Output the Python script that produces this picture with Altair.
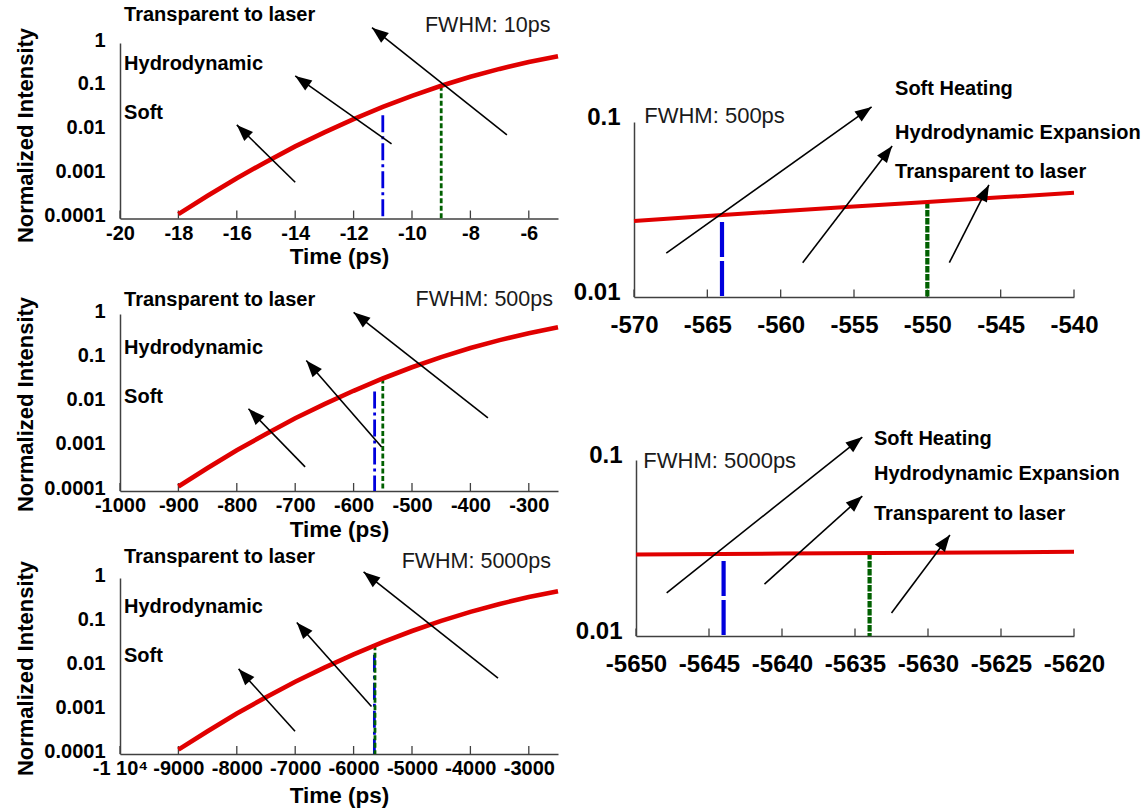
import math

import altair as alt
import pandas as pd

W, H = 1146, 809
FONT = "Liberation Sans"
RED = "#e00000"
BLUE = "#0000dd"
GREEN = "#006000"
AXIS_GRAY = "#404040"
ARROW_HEAD = "M0,0L-0.375,1L0.375,1Z"  # tip at the origin, pointing up

# ---------------- data ----------------
# Normalized pulse intensity sampled along the rising edge (same shape for all three pulses)
pulse_intensity = [1.26e-4, 3.3e-4, 8.3e-4, 1.95e-3, 4.4e-3, 9.2e-3, 0.0184,
                   0.0349, 0.0625, 0.106, 0.170, 0.257, 0.369, 0.5]
time_10ps = [-18, -17, -16, -15, -14, -13, -12, -11, -10, -9, -8, -7, -6, -5]
time_500ps = [-900, -850, -800, -750, -700, -650, -600, -550, -500, -450, -400,
              -350, -300, -250]
time_5000ps = [-9000, -8500, -8000, -7500, -7000, -6500, -6000, -5500, -5000,
               -4500, -4000, -3500, -3000, -2500]

# Close-up of the 500 ps and 5000 ps pulses around the threshold region
zoom_time_500 = [-570, -565, -560, -555, -550, -545, -540]
zoom_int_500 = [0.0272, 0.0290, 0.0309, 0.0329, 0.0349, 0.0371, 0.0394]
zoom_time_5000 = [-5650, -5640, -5630, -5620]
zoom_int_5000 = [0.0290, 0.0294, 0.0297, 0.0301]

# Threshold markers: (time, top intensity) for soft heating (blue) and hydro (green)
soft_marker = {"10": (-11, 0.0225), "500": (-564, 0.0178), "5000": (-5644, 0.018),
               "z500": (-564, 0.0268), "z5000": (-5644, 0.0267)}
hydro_marker = {"10": (-9, 0.106), "500": (-550, 0.035), "5000": (-5634, 0.0296),
                "z500": (-550, 0.0349), "z5000": (-5634, 0.0296)}

# Annotation arrows: (tail time, tail intensity, tip time, tip intensity)
arrows_10 = [(-14.0, 6.7e-4, -16.0, 0.0136), (-10.7, 0.0050, -14.0, 0.178),
             (-6.75, 0.0081, -11.37, 2.24)]
arrows_500 = [(-683, 3.5e-4, -780, 0.0072), (-552, 9.9e-4, -681, 0.0885),
              (-370, 0.0045, -600, 1.09)]
arrows_5000 = [(-7003, 3.3e-4, -7969, 0.0086), (-5694, 0.0012, -6973, 0.0975),
               (-3527, 0.0053, -5829, 1.37)]
arrows_z500 = [(-567.8, 0.0178, -553.8, 0.122), (-558.5, 0.0157, -552.4, 0.0729),
               (-548.5, 0.0157, -545.8, 0.0437)]
arrows_z5000 = [(-5647.9, 0.0176, -5634.5, 0.135), (-5641.2, 0.0197, -5634.5, 0.0624),
                (-5632.5, 0.0135, -5628.5, 0.0375)]

# Regime labels: (time, intensity, text)
labels_short = ["Transparent to laser", "Hydrodynamic", "Soft"]
labels_long = ["Soft Heating", "Hydrodynamic Expansion", "Transparent to laser"]
label_pos_10 = [(-19.86, 4.26), (-19.86, 0.332), (-19.86, 0.0254)]
label_pos_500 = [(-993, 2.07), (-993, 0.17), (-993, 0.0133)]
label_pos_5000 = [(-9932, 3.0), (-9932, 0.224), (-9932, 0.0169)]
label_pos_z500 = [(-552.2, 0.154), (-552.2, 0.0865), (-552.2, 0.0518)]
label_pos_z5000 = [(-5633.7, 0.1315), (-5633.7, 0.0832), (-5633.7, 0.0493)]

# Pulse width captions: (time, intensity, text)
fwhm_10 = (-5.26, 2.39, "FWHM: 10ps")
fwhm_500 = (-258.6, 2.07, "FWHM: 500ps")
fwhm_5000 = (-2620, 2.33, "FWHM: 5000ps")
fwhm_z500 = (-569.3, 0.108, "FWHM: 500ps")
fwhm_z5000 = (-5649.5, 0.0987, "FWHM: 5000ps")

# Axis ticks
xticks_10 = [-20, -18, -16, -14, -12, -10, -8, -6]
xticks_500 = [-1000, -900, -800, -700, -600, -500, -400, -300]
xticks_5000 = [-10000, -9000, -8000, -7000, -6000, -5000, -4000, -3000]
xticks_z500 = [-570, -565, -560, -555, -550, -545, -540]
xticks_z5000 = [-5650, -5645, -5640, -5635, -5630, -5625, -5620]
yticks_wide = [1e-4, 1e-3, 1e-2, 1e-1, 1]
yticks_zoom = [1e-2, 1e-1]

# ---------------- panels ----------------
panels = [
    dict(t=time_10ps, i=pulse_intensity, key="10", arrows=arrows_10,
         labels=labels_short, label_pos=label_pos_10, fwhm=fwhm_10, fwhm_align="right",
         xdom=[-20, -5], xrange=[120, 558], ydom=[1e-4, 1], yrange=[218.5, 43],
         xticks=xticks_10, yticks=yticks_wide, wide=True, ytitle_y=135, xtitle_dy=37.5),
    dict(t=time_500ps, i=pulse_intensity, key="500", arrows=arrows_500,
         labels=labels_short, label_pos=label_pos_500, fwhm=fwhm_500, fwhm_align="right",
         xdom=[-1000, -250], xrange=[120, 558], ydom=[1e-4, 1], yrange=[491, 314],
         xticks=xticks_500, yticks=yticks_wide, wide=True, ytitle_y=404, xtitle_dy=38),
    dict(t=time_5000ps, i=pulse_intensity, key="5000", arrows=arrows_5000,
         labels=labels_short, label_pos=label_pos_5000, fwhm=fwhm_5000, fwhm_align="right",
         xdom=[-10000, -2500], xrange=[120, 558], ydom=[1e-4, 1], yrange=[754, 578],
         xticks=xticks_5000, yticks=yticks_wide, wide=True, ytitle_y=668, xtitle_dy=41),
    dict(t=zoom_time_500, i=zoom_int_500, key="z500", arrows=arrows_z500,
         labels=labels_long, label_pos=label_pos_z500, fwhm=fwhm_z500, fwhm_align="left",
         xdom=[-570, -540], xrange=[634, 1074], ydom=[0.01, 0.1], yrange=[297, 122],
         xticks=xticks_z500, yticks=yticks_zoom, wide=False),
    dict(t=zoom_time_5000, i=zoom_int_5000, key="z5000", arrows=arrows_z5000,
         labels=labels_long, label_pos=label_pos_z5000, fwhm=fwhm_z5000, fwhm_align="left",
         xdom=[-5650, -5620], xrange=[636, 1074], ydom=[0.01, 0.1], yrange=[636, 460],
         xticks=xticks_z5000, yticks=yticks_zoom, wide=False),
]


def to_pixel(p, t, inten):
    """Map a (time, intensity) pair to pixels with the panel's own scale geometry."""
    (d0, d1), (r0, r1) = p["xdom"], p["xrange"]
    (e0, e1), (s0, s1) = p["ydom"], p["yrange"]
    px = r0 + (t - d0) / (d1 - d0) * (r1 - r0)
    f = (math.log10(inten) - math.log10(e0)) / (math.log10(e1) - math.log10(e0))
    return px, s0 + f * (s1 - s0)


def make_panel(p):
    wide = p["wide"]
    tick_fs = 20 if wide else 24
    xscale = alt.Scale(domain=p["xdom"], range=p["xrange"], nice=False, zero=False)
    yscale = alt.Scale(type="log", domain=p["ydom"], range=p["yrange"], nice=False)

    x_label_expr = "'' + datum.value"
    if p["key"] == "5000":
        x_label_expr = "datum.value == -10000 ? '-1 10\u2074' : '' + datum.value"

    x_axis_kw = dict(
        orient="bottom", offset=p["yrange"][0] - H, values=p["xticks"],
        labelExpr=x_label_expr, grid=False, ticks=False, tickSize=0,
        domainColor=AXIS_GRAY, domainWidth=1.5, labelFont=FONT,
        labelFontWeight="bold", labelFontSize=tick_fs, labelColor="black",
        labelBaseline="middle", labelAlign="center",
        labelPadding=14.5 if wide else 28, labelFlush=False, labelOverlap=False,
    )
    y_axis_kw = dict(
        orient="left", offset=-p["xrange"][0], values=p["yticks"],
        labelExpr="'' + datum.value", grid=False, ticks=False, tickSize=0,
        domainColor=AXIS_GRAY, domainWidth=1.5, labelFont=FONT,
        labelFontWeight="bold", labelFontSize=tick_fs, labelColor="black",
        labelBaseline="middle", labelAlign="right",
        labelPadding=15 if wide else 14, labelOffset=-3 if wide else -5,
        labelFlush=False, labelOverlap=False,
    )
    if wide:
        x_axis_kw.update(title="Time (ps)", titleFont=FONT, titleFontWeight="bold",
                         titleFontSize=22.5, titleColor="black",
                         titleX=(p["xrange"][0] + p["xrange"][1]) / 2,
                         titleY=p["xtitle_dy"], titleAlign="center",
                         titleBaseline="middle", titleAngle=0)
        y_axis_kw.update(title="Normalized Intensity", titleFont=FONT,
                         titleFontWeight="bold", titleFontSize=22, titleColor="black",
                         titleX=25 - p["xrange"][0], titleY=p["ytitle_y"],
                         titleAlign="center", titleBaseline="middle", titleAngle=270)
    else:
        x_axis_kw.update(title=None)
        y_axis_kw.update(title=None)
    x_axis = alt.Axis(**x_axis_kw)
    y_axis = alt.Axis(**y_axis_kw)

    def X():
        return alt.X("t:Q", scale=xscale, axis=x_axis)

    def Y():
        return alt.Y("I:Q", scale=yscale, axis=y_axis)

    layers = []

    # inward tick marks on the time axis
    ymin = p["ydom"][0]
    tick_len = 8.0 if wide else 7.5
    decade_px = abs(p["yrange"][0] - p["yrange"][1]) / (
        math.log10(p["ydom"][1]) - math.log10(p["ydom"][0]))
    tick_top = ymin * 10 ** (tick_len / decade_px)
    ticks_df = pd.DataFrame({"t": p["xticks"], "I": [tick_top] * len(p["xticks"]),
                             "I0": [ymin] * len(p["xticks"])})
    layers.append(alt.Chart(ticks_df).mark_rule(color=AXIS_GRAY, strokeWidth=1.3)
                  .encode(x=X(), y=Y(), y2="I0:Q"))

    # threshold markers
    mw = 2.8 if wide else 4.2
    st, si = soft_marker[p["key"]]
    ht, hi = hydro_marker[p["key"]]
    soft_df = pd.DataFrame({"t": [st], "I": [si], "I0": [ymin]})
    hydro_df = pd.DataFrame({"t": [ht], "I": [hi], "I0": [ymin]})
    layers.append(alt.Chart(soft_df).mark_rule(
        color=BLUE, strokeWidth=mw,
        strokeDash=[17, 4, 3, 4] if wide else [35, 4]
    ).encode(x=X(), y=Y(), y2="I0:Q"))
    layers.append(alt.Chart(hydro_df).mark_rule(
        color=GREEN, strokeWidth=mw,
        strokeDash=[5, 2.5] if wide else [6.5, 1.5]
    ).encode(x=X(), y=Y(), y2="I0:Q"))

    # pulse intensity
    curve_df = pd.DataFrame({"t": p["t"], "I": p["i"]})
    layers.append(alt.Chart(curve_df).mark_line(
        color=RED, strokeWidth=4.6 if wide else 4.0, strokeCap="butt"
    ).encode(x=X(), y=Y()))

    # arrows: shafts and heads
    shaft_df = pd.DataFrame({"t": [a[0] for a in p["arrows"]],
                             "I": [a[1] for a in p["arrows"]],
                             "t2": [a[2] for a in p["arrows"]],
                             "I2": [a[3] for a in p["arrows"]]})
    layers.append(alt.Chart(shaft_df).mark_rule(color="black", strokeWidth=1.6)
                  .encode(x=X(), y=Y(), x2="t2:Q", y2="I2:Q"))
    angles = []
    for a in p["arrows"]:
        x0, y0 = to_pixel(p, a[0], a[1])
        x1, y1 = to_pixel(p, a[2], a[3])
        angles.append(math.degrees(math.atan2(x1 - x0, -(y1 - y0))) % 360)
    head_df = pd.DataFrame({"t": [a[2] for a in p["arrows"]],
                            "I": [a[3] for a in p["arrows"]], "ang": angles})
    layers.append(alt.Chart(head_df).mark_point(
        shape=ARROW_HEAD, filled=True, color="black", opacity=1, size=1100,
        strokeWidth=0
    ).encode(x=X(), y=Y(), angle=alt.Angle("ang:Q", scale=None)))

    # regime labels
    lab_df = pd.DataFrame({"t": [q[0] for q in p["label_pos"]],
                           "I": [q[1] for q in p["label_pos"]],
                           "txt": p["labels"]})
    layers.append(alt.Chart(lab_df).mark_text(
        align="left", baseline="middle", font=FONT, fontSize=20,
        fontWeight="bold", color="black"
    ).encode(x=X(), y=Y(), text="txt:N"))

    # pulse width caption
    fw_df = pd.DataFrame({"t": [p["fwhm"][0]], "I": [p["fwhm"][1]],
                          "txt": [p["fwhm"][2]]})
    layers.append(alt.Chart(fw_df).mark_text(
        align=p["fwhm_align"], baseline="middle", font=FONT,
        fontSize=21.5 if wide else 22, fontWeight="normal", color="#1a1a1a"
    ).encode(x=X(), y=Y(), text="txt:N"))

    return alt.layer(*layers)


chart = (
    alt.layer(*[make_panel(p) for p in panels])
    .resolve_scale(x="independent", y="independent")
    .properties(width=W, height=H, autosize=alt.AutoSizeParams(type="none"),
                padding=0, background="white")
    .configure_view(strokeWidth=0)
)

chart.save("out.html", embed_options={"renderer": "svg", "actions": False})
